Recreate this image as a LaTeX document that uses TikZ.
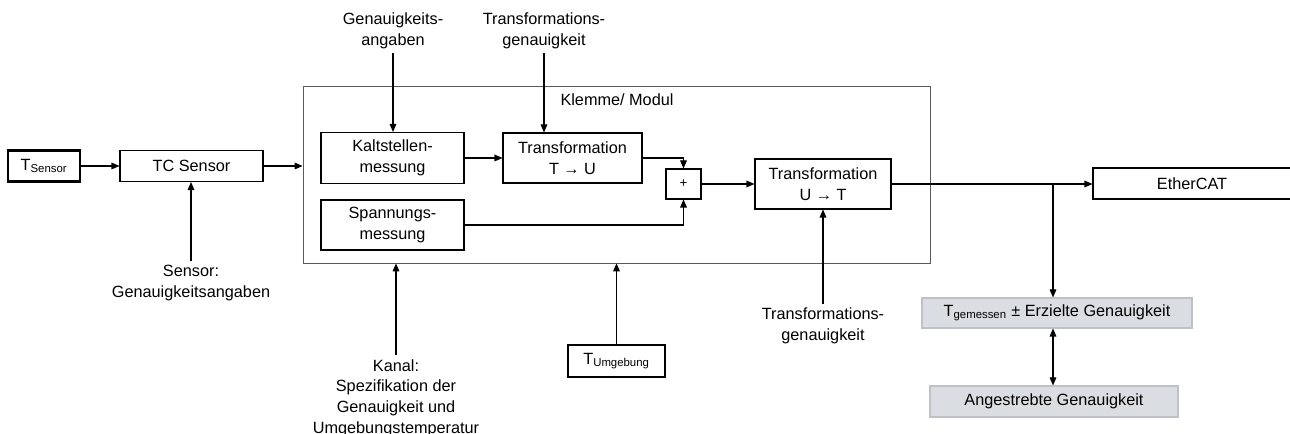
\documentclass[tikz,border=0pt]{standalone}
\usepackage{fontspec}
\setmainfont{Liberation Sans}
\usepackage{tikz}
\usetikzlibrary{arrows.meta,positioning}
\definecolor{framegray}{RGB}{89, 89, 89}
\definecolor{resultfill}{RGB}{218, 221, 226}
\definecolor{resultline}{RGB}{190, 193, 198}

\begin{document}
\begin{tikzpicture}[x=0.75pt, y=-0.75pt, >={Triangle[length=6pt,width=5pt]},
    every node/.style={font=\fontsize{12.2}{15.5}\selectfont},
    block/.style={draw, line width=0.8pt, minimum width=#1, inner sep=0pt},
    thickblock/.style={draw, line width=1.8pt, minimum width=#1, inner sep=0pt},
    result/.style={draw=resultline, fill=resultfill, line width=0.8pt, minimum width=#1, inner sep=0pt},
    lbl/.style={align=center, inner sep=3pt},
    conn/.style={->, line width=0.8pt}]
        \useasboundingbox (0,0) rectangle (1290,434);

        % Outer module
        \node[draw=framegray, line width=0.6pt, minimum width=470.25pt, minimum height=132.75pt] (modul) at (616.5,174.5) {};
        \node (modullbl) at (617,100) {Klemme/ Modul};

        % Sensor side
        \node[thickblock=54pt, minimum height=23.25pt] (tsensor) at (44,166) {T\textsubscript{Sensor}};
        \node[block=107.25pt, minimum height=23.25pt] (tcsensor) at (191.5,166) {TC Sensor};
        \node[lbl] (sensorlbl) at (191,283) {Sensor:\\Genauigkeitsangaben};

        % Inside the module
        \node[block=107.25pt, minimum height=38.25pt, align=center] (kalt) at (392.5,158) {Kaltstellen-\\messung};
        \node[block=104.25pt, minimum height=37.5pt, align=center] (tu) at (572.5,158) {Transformation\\T → U};
        \node[block=107.25pt, minimum height=37.5pt, align=center] (spann) at (392.5,225) {Spannungs-\\messung};
        \node[block=26.25pt, minimum height=22.5pt, font=\fontsize{10}{12}\selectfont] (plus) at (683.5,184) {+};
        \node[block=102pt, minimum height=37.5pt, align=center] (tut) at (823,184) {Transformation\\U → T};

        % Inputs from outside
        \node[lbl] (genlbl) at (393,31) {Genauigkeits-\\angaben};
        \node[lbl] (trlbl) at (544,31) {Transformations-\\genauigkeit};
        \node[lbl] (kanallbl) at (396,398) {Kanal:\\Spezifikation der\\Genauigkeit und\\Umgebungstemperatur};
        \node[thickblock=72.75pt, minimum height=24pt] (tumg) at (616.5,361) {T\textsubscript{Umgebung}};
        \node[lbl] (trlbl2) at (823,326) {Transformations-\\genauigkeit};

        % Output side
        \node[block=148.5pt, minimum height=23.25pt] (ethercat) at (1192,183.5) {EtherCAT};
        \node[result=202.5pt, minimum height=22.5pt] (tmess) at (1057,313) {T\textsubscript{gemessen} ± Erzielte Genauigkeit};
        \node[result=186pt, minimum height=23.25pt] (ziel) at (1054,401.5) {Angestrebte Genauigkeit};
        \coordinate (branch) at (1053,184);

        % Connectors
        \draw[conn] (tsensor) -- (tcsensor);
        \draw[conn] (tcsensor.east) -- (tcsensor.east -| modul.west);
        \draw[conn] (sensorlbl.north) -- (sensorlbl.north |- tcsensor.south);
        \draw[conn] (genlbl.south) -- (genlbl.south |- kalt.north);
        \draw[conn] (trlbl.south) -- (trlbl.south |- tu.north);
        \draw[conn] (kalt) -- (tu);
        \draw[conn] (tu.east) -| (plus.north);
        \draw[conn] (spann.east) -| (plus.south);
        \draw[conn] (plus) -- (tut);
        \draw[conn] (trlbl2.north) -- (trlbl2.north |- tut.south);
        \draw[conn] (kanallbl.north) -- (kanallbl.north |- modul.south);
        \draw[conn] (tumg.north) -- (tumg.north |- modul.south);
        \draw[conn] (tut.east) -- (tut.east -| ethercat.west);
        \draw[conn] (branch) -- (branch |- tmess.north);
        \draw[conn, <->] (tmess.south -| branch) -- (ziel.north -| branch);
\end{tikzpicture}
\end{document}
